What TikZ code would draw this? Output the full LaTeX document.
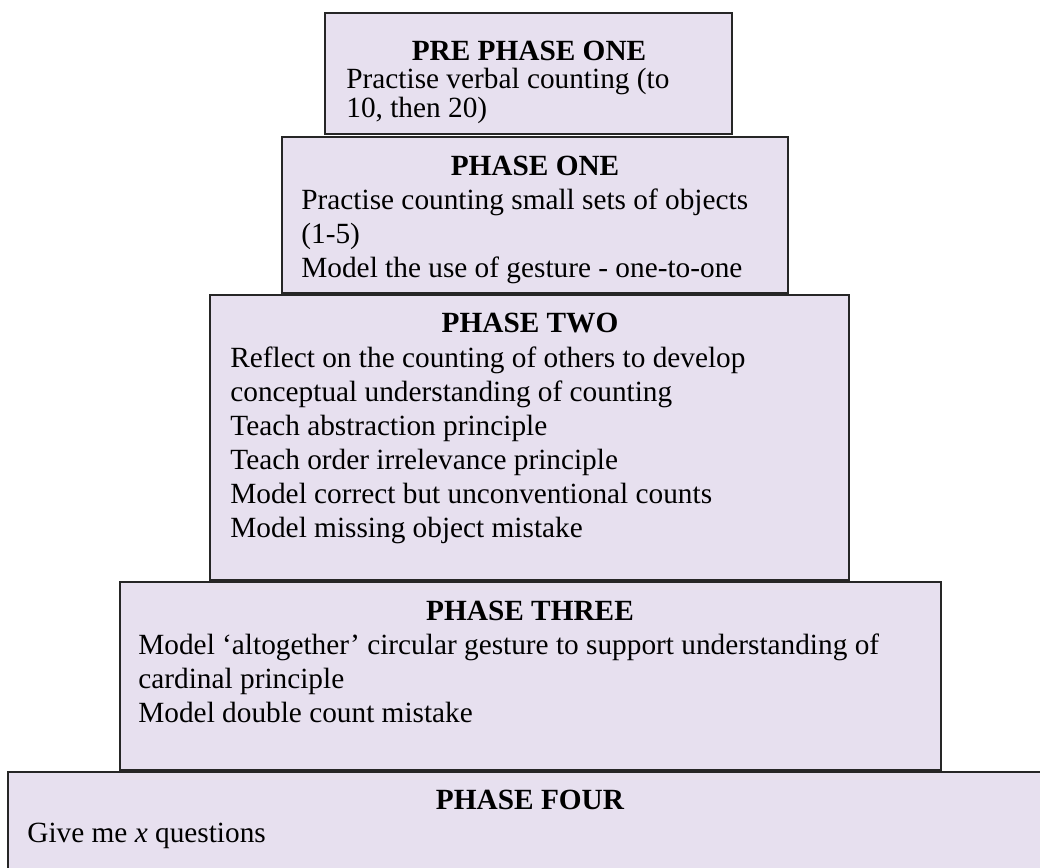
\documentclass[tikz,border=0pt]{standalone}
\usepackage{fontspec}
\setmainfont{Liberation Serif}
\usepackage{xcolor}
\usepackage{tikz}
\usetikzlibrary{fit, positioning}
\definecolor{phasefill}{RGB}{231,224,239}

\begin{document}
\begin{tikzpicture}[
    x=0.5pt, y=-0.5pt,
    phasebox/.style={draw=black!85, line width=0.8pt, fill=phasefill, inner sep=0pt},
    phasehead/.style={font=\fontsize{14.65}{17}\selectfont\bfseries, anchor=base, inner sep=0pt},
    phasetext/.style={font=\fontsize{14.65}{17}\selectfont, align=left, anchor=base west, inner sep=0pt}
]
\useasboundingbox (0,0) rectangle (1040,868);
\clip (0,0) rectangle (1040,868);
% pyramid of phases, top to bottom
\node[phasebox, fit={(325,13) (732,134)}] (pre) {};
\node[phasebox, fit={(282,137) (788,293)}] (one) {};
\node[phasebox, fit={(210,295) (849,580)}] (two) {};
\node[phasebox, fit={(120,582) (941,770)}] (three) {};
\node[phasebox, fit={(8,772) (1052,890)}] (four) {};

% text blocks are anchored at the baseline of their last line
\node[phasehead] (prehead) at (529,60) {PRE PHASE ONE};
\node[phasetext, font=\fontsize{14.65}{14.5}\selectfont] (pretext) at (346,117)
    {Practise verbal counting (to\\10, then 20)};

\node[phasehead] (onehead) at (535,175) {PHASE ONE};
\node[phasetext] (onetext) at (301,277)
    {Practise counting small sets of objects\\(1-5)\\Model the use of gesture - one-to-one};

\node[phasehead] (twohead) at (530,332) {PHASE TWO};
\node[phasetext] (twotext) at (230,537)
    {Reflect on the counting of others to develop\\conceptual understanding of counting\\
     Teach abstraction principle\\Teach order irrelevance principle\\
     Model correct but unconventional counts\\Model missing object mistake};

\node[phasehead] (threehead) at (530,620) {PHASE THREE};
\node[phasetext] (threetext) at (138,722)
    {Model ‘altogether’ circular gesture to support understanding of\\cardinal principle\\
     Model double count mistake};

\node[phasehead] (fourhead) at (530,809) {PHASE FOUR};
\node[phasetext] (fourtext) at (27,842) {Give me \textit{x} questions};
\end{tikzpicture}
\end{document}
